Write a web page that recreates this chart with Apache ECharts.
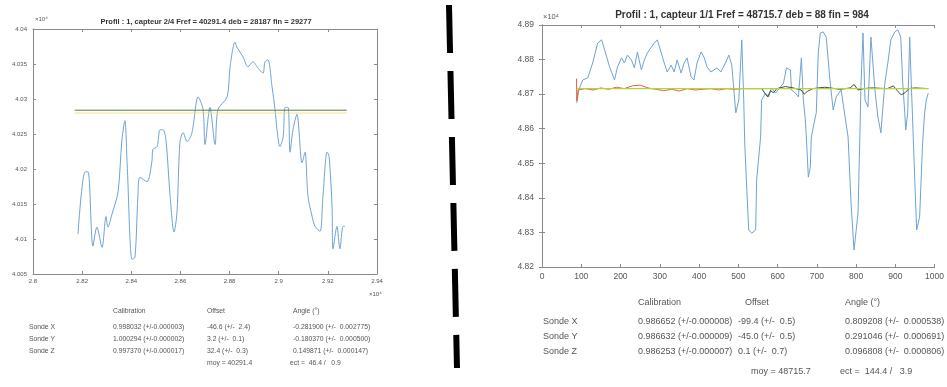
<!DOCTYPE html>
<html>
<head>
<meta charset="utf-8">
<script src="https://cdn.jsdelivr.net/npm/echarts@6/dist/echarts.min.js"></script>
<style>html,body{margin:0;padding:0;background:#fff}#c{width:947px;height:387px}</style>
</head>
<body>
<div id="c"></div>
<script>
// ---------- Left profile (capteur 2/4) ----------
var leftTitle = 'Profil : 1, capteur 2/4 Fref = 40291.4 deb = 28187 fin = 29277';
var leftX = [28183,28212,28224,28244,28260,28281,28297,28305,28321,28346,28362,28374,28383,28403,28415,28427,28435,28464,28484,28488,28505,28517,28529,28541,28558,28574,28586,28598,28611,28627,28647,28672,28692,28700,28720,28741,28753,28790,28802,28822,28830,28855,28875,28895,28916,28936,28944,28956,28973,28985,28993,29005,29018,29026,29038,29046,29058,29074,29095,29107,29119,29136,29148,29168,29180,29197,29205,29217,29221,29237,29249,29262,29270];
var leftY = [40107,40196,40196,40090,40117,40088,40132,40117,40135,40167,40242,40269,40209,40071,40074,40161,40188,40182,40211,40228,40232,40256,40256,40242,40161,40110,40138,40238,40252,40239,40252,40303,40285,40235,40288,40235,40285,40303,40346,40381,40374,40360,40346,40353,40344,40337,40353,40356,40317,40285,40256,40232,40246,40288,40288,40224,40256,40278,40209,40224,40161,40132,40118,40111,40161,40224,40218,40147,40086,40118,40086,40118,40118];
var leftRefX = [28170, 29277];
var leftRefY = [40284, 40284];
var leftRef2Y = [40280, 40280];
var leftHeaders = ['Calibration', 'Offset', 'Angle (°)'];
var leftRows = ['Sonde X', 'Sonde Y', 'Sonde Z'];
var leftCalib = ['0.998032 (+/-0.000003)', '1.000294 (+/-0.000002)', '0.997370 (+/-0.000017)'];
var leftOffset = ['-46.6 (+/-  2.4)', '3.2 (+/-  0.1)', '32.4 (+/-  0.3)'];
var leftAngle = ['-0.281900 (+/-  0.002775)', '-0.180370 (+/-  0.000500)', '0.149871 (+/-  0.000147)'];
var leftStats = ['moy = 40291.4', 'ect =  46.4 /   0.9'];

// ---------- Right profile (capteur 1/1) ----------
var rightTitle = 'Profil : 1, capteur 1/1 Fref = 48715.7 deb = 88 fin = 984';
var rightX = [88.6,93.7,103.8,116.5,129.1,141.8,151.9,159.5,172.2,184.8,192.4,202.5,210.1,217.7,227.8,235.4,243.0,253.2,260.8,268.4,278.5,286.1,293.7,303.8,311.4,319.0,329.1,336.7,344.3,354.4,362.0,369.6,379.7,387.3,394.9,405.1,412.7,420.3,430.4,438.0,445.6,455.7,468.4,476.0,483.5,493.7,501.3,508.9,513.9,516.5,519.0,521.5,526.6,534.2,544.3,546.8,556.9,559.5,569.6,577.2,584.8,594.9,607.6,615.2,622.8,632.9,635.4,645.6,653.2,660.8,665.8,670.9,673.4,678.5,683.5,686.1,691.1,698.7,703.8,708.9,716.5,724.1,734.2,741.8,749.4,762.0,779.7,787.3,794.9,805.1,810.1,812.7,817.7,822.8,830.4,838.0,848.1,855.7,863.3,873.4,881.0,888.6,898.7,906.3,913.9,919.0,924.1,926.6,931.6,936.7,939.2,949.4,954.4,962.0,969.6,974.7,979.0,984.0];
var rightY = [48674,48712,48741,48747,48790,48848,48857,48828,48779,48741,48779,48805,48790,48813,48799,48776,48822,48770,48799,48819,48836,48848,48857,48819,48790,48764,48784,48764,48799,48761,48790,48805,48750,48741,48790,48822,48807,48779,48764,48770,48776,48764,48793,48813,48784,48646,48683,48857,48683,48559,48495,48431,48307,48298,48307,48452,48576,48683,48703,48692,48718,48703,48721,48732,48776,48770,48712,48703,48692,48805,48683,48625,48576,48460,48489,48576,48605,48646,48819,48877,48880,48865,48732,48654,48692,48712,48576,48385,48249,48356,48596,48732,48877,48683,48663,48865,48712,48634,48588,48732,48790,48857,48880,48886,48865,48732,48646,48596,48646,48865,48779,48460,48307,48345,48559,48646,48683,48703];
var rightRefX = [88, 984];
var rightRefY = [48716, 48716];
var rightRedX = [88,88.5,92,110,130,150,170,190,210,230,250,270,290,310,330,350,370,390,410,430,450,470,490,510];
var rightRedY = [48745,48680,48712,48716,48712,48718,48714,48720,48716,48724,48726,48718,48714,48710,48714,48709,48716,48712,48714,48716,48712,48716,48714,48716];
var rightDarkX = [515,560,568,575,582,590,598,620,640,660,668,676,690,720,760,785,795,805,820,840,880,895,905,915,925,935,950,984];
var rightDarkY = [48716,48716,48702,48692,48710,48704,48716,48722,48718,48712,48700,48708,48716,48720,48714,48718,48728,48712,48716,48718,48716,48724,48710,48698,48704,48716,48718,48716];
var rightHeaders = ['Calibration', 'Offset', 'Angle (°)'];
var rightRows = ['Sonde X', 'Sonde Y', 'Sonde Z'];
var rightCalib = ['0.986652 (+/-0.000008)', '0.986632 (+/-0.000009)', '0.986253 (+/-0.000007)'];
var rightOffset = ['-99.4 (+/-  0.5)', '-45.0 (+/-  0.5)', '0.1 (+/-  0.7)'];
var rightAngle = ['0.809208 (+/-  0.000538)', '0.291046 (+/-  0.000691)', '0.096808 (+/-  0.000806)'];
var rightStats = ['moy = 48715.7', 'ect =  144.4 /   3.9'];

function zip(a, b) { return a.map(function (v, i) { return [v, b[i]]; }); }
function fmt4(v) { return String(parseFloat((v / 10000).toFixed(4))); }

var FONT = 'Liberation Sans, Arial, sans-serif';
var AX = '#8a8a8a';
var LAB = '#555';

function axisPair(gi, xmin, xmax, xint, ymin, ymax, yint, fs, xfmt, yfmt, xm, ym) {
  var common = {
    axisLine: { show: true, lineStyle: { color: AX, width: 1 } },
    axisTick: { show: true, inside: true, length: 3, lineStyle: { color: AX } },
    splitLine: { show: false }
  };
  var xs = [
    Object.assign({ type: 'value', gridIndex: gi, min: xmin, max: xmax, interval: xint, position: 'bottom',
      axisLabel: { color: LAB, fontSize: fs, fontFamily: FONT, margin: xm, formatter: xfmt } }, common),
    Object.assign({ type: 'value', gridIndex: gi, min: xmin, max: xmax, interval: xint, position: 'top',
      axisLabel: { show: false } }, common)
  ];
  var ys = [
    Object.assign({ type: 'value', gridIndex: gi, min: ymin, max: ymax, interval: yint, position: 'left',
      axisLabel: { color: LAB, fontSize: fs, fontFamily: FONT, margin: ym, formatter: yfmt } }, common),
    Object.assign({ type: 'value', gridIndex: gi, min: ymin, max: ymax, interval: yint, position: 'right',
      axisLabel: { show: false } }, common)
  ];
  return { x: xs, y: ys };
}

var A = axisPair(0, 28000, 29400, 200, 40050, 40400, 50, 6, fmt4, fmt4, 4, 6);
var B = axisPair(1, 0, 1000, 100, 48200, 48900, 100, 8.5, function (v) { return String(v); }, fmt4, 5, 8);

function txt(x, y, s, fs, extra) {
  return { type: 'text', left: x, top: y, silent: true,
    style: Object.assign({ text: s, fontSize: fs, fontFamily: FONT, fill: '#555' }, extra || {}) };
}

var graphics = [];
// titles & exponents
graphics.push({ type: 'text', x: 206, y: 22, silent: true,
  style: { text: leftTitle, fontSize: 7.5, fontWeight: 'bold', fontFamily: FONT, fill: '#333', align: 'center', verticalAlign: 'middle' } });
graphics.push({ type: 'text', x: 742, y: 15, silent: true,
  style: { text: rightTitle, fontSize: 10, fontWeight: 'bold', fontFamily: FONT, fill: '#333', align: 'center', verticalAlign: 'middle' } });
graphics.push(txt(35, 16, '×10⁴', 6));
graphics.push(txt(369, 291, '×10⁴', 6));
graphics.push(txt(543, 13, '×10⁴', 7.5));

// left table
var LF = 6.8;
var lc = [113, 207, 293];
leftHeaders.forEach(function (h, i) { graphics.push(txt(lc[i], 308, h, LF)); });
leftRows.forEach(function (r, i) {
  var y = 324 + i * 12;
  graphics.push(txt(29, y, r, LF));
  graphics.push(txt(lc[0], y, leftCalib[i], LF));
  graphics.push(txt(lc[1], y, leftOffset[i], LF));
  graphics.push(txt(lc[2], y, leftAngle[i], LF));
});
graphics.push(txt(207, 360, leftStats[0], LF));
graphics.push(txt(290, 360, leftStats[1], LF));

// right table
var RF = 9;
var rc = [638, 745, 845];
rightHeaders.forEach(function (h, i) { graphics.push(txt(rc[i], 298, h, RF)); });
rightRows.forEach(function (r, i) {
  var y = 317 + i * 15;
  graphics.push(txt(543, y, r, RF));
  graphics.push(txt(rc[0], y, rightCalib[i], RF));
  graphics.push(txt(rc[1] - 7, y, rightOffset[i], RF));
  graphics.push(txt(rc[2], y, rightAngle[i], RF));
});
graphics.push(txt(751, 367, rightStats[0], RF));
graphics.push(txt(840, 367, rightStats[1], RF));

// dashed separator
graphics.push({ type: 'line', silent: true,
  shape: { x1: 449, y1: 5, x2: 457, y2: 368 },
  style: { stroke: '#000', lineWidth: 6, lineDash: [48, 18] } });

var option = {
  animation: false,
  backgroundColor: '#fff',
  grid: [
    { left: 33, top: 29, width: 344, height: 245, show: false },
    { left: 542, top: 25, width: 395, height: 242, show: false }
  ],
  xAxis: A.x.concat(B.x),
  yAxis: A.y.concat(B.y),
  series: [
    { type: 'line', xAxisIndex: 0, yAxisIndex: 0, data: zip(leftX, leftY), showSymbol: false, smooth: 0.3,
      lineStyle: { color: '#6fa3d6', width: 1 } },
    { type: 'line', xAxisIndex: 0, yAxisIndex: 0, data: zip(leftRefX, leftRef2Y), showSymbol: false,
      lineStyle: { color: '#eadf70', width: 1, opacity: 0.8 } },
    { type: 'line', xAxisIndex: 0, yAxisIndex: 0, data: zip(leftRefX, leftRefY), showSymbol: false,
      lineStyle: { color: '#5a7a3a', width: 1 } },
    { type: 'line', xAxisIndex: 2, yAxisIndex: 2, data: zip(rightX, rightY), showSymbol: false,
      lineStyle: { color: '#6fa3d6', width: 1 } },
    { type: 'line', xAxisIndex: 2, yAxisIndex: 2, data: zip(rightRedX, rightRedY), showSymbol: false,
      lineStyle: { color: '#e0643a', width: 1 } },
    { type: 'line', xAxisIndex: 2, yAxisIndex: 2, data: zip(rightDarkX, rightDarkY), showSymbol: false,
      lineStyle: { color: '#3d4d3a', width: 1 } },
    { type: 'line', xAxisIndex: 2, yAxisIndex: 2, data: zip(rightRefX, rightRefY), showSymbol: false,
      lineStyle: { color: '#b8d23a', width: 1.2 } }
  ],
  graphic: graphics
};

var chart = echarts.init(document.getElementById('c'), null, { renderer: 'canvas' });
chart.setOption(option);
</script>
</body>
</html>
